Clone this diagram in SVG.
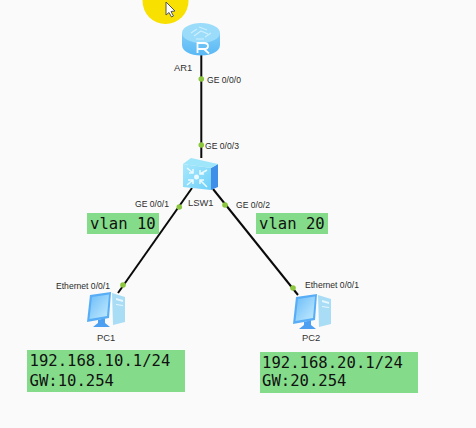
<svg xmlns="http://www.w3.org/2000/svg" width="476" height="428" viewBox="0 0 476 428">
<style>
.l{font-family:"Liberation Sans",Arial,sans-serif;font-size:8.6px;fill:#2a2a2a}
.n{font-family:"Liberation Sans",Arial,sans-serif;font-size:9.4px;fill:#333}
.m{font-family:"DejaVu Sans Mono",monospace;font-size:15.6px;fill:#111}
.g{fill:#84dc8a}
.w{stroke:#0a0a0a;stroke-width:2;fill:none}
.d{fill:#8cc63f}
</style>
<defs>
<linearGradient id="rt" x1="0" y1="0" x2="0" y2="1"><stop offset="0" stop-color="#7fcdf8"/><stop offset="1" stop-color="#5ab8f5"/></linearGradient>
<linearGradient id="sw" x1="0" y1="0" x2="1" y2="1"><stop offset="0" stop-color="#a8e8fd"/><stop offset="1" stop-color="#6fd0f8"/></linearGradient>
<linearGradient id="sc" x1="0" y1="0" x2="1" y2="1"><stop offset="0" stop-color="#6cbcf8"/><stop offset="1" stop-color="#c4ecff"/></linearGradient>
<g id="pc">
<path d="M27 0 L40 4 V29 L28 32 Z" fill="#a9dcf5"/>
<path d="M31 5 L38 7 V9 L31 7 Z M31 11 L38 12 V13 L31 12 Z" fill="#e6f7ff"/>
<path d="M13 27 L20 25 L20 30 L25 34 L8 34 L13 30 Z" fill="#4d9ff2"/>
<path d="M5 2 L26 -1 L24 25 L2 29 Z" fill="#58aef6"/>
<path d="M7 4 L24 1.500 L22 23 L4.500 26 Z" fill="url(#sc)"/>
</g>
</defs>
<rect width="476" height="428" fill="#fafafa"/>
<g id="highlight"><circle cx="165.500" cy="1" r="23" fill="#f8e000"/>
<path d="M166 2 V15 L169 12.500 L171.500 17 L173.500 16 L171 11.500 L175 11 Z" fill="#fff" stroke="#555" stroke-width="1"/></g>
<g id="connectors">
<path class="w" d="M201.300 55 V158"/>
<path class="w" d="M192 188 L118 293"/>
<path class="w" d="M213 189 L298 295"/>
<circle class="d" cx="201.300" cy="79" r="2.800"/>
<circle class="d" cx="201.300" cy="145" r="2.800"/>
<circle class="d" cx="179.300" cy="207" r="2.800"/>
<circle class="d" cx="225" cy="205" r="2.800"/>
<circle class="d" cx="123" cy="285" r="2.800"/>
<circle class="d" cx="293" cy="288" r="2.800"/>
<text class="l" x="207" y="82.500">GE 0/0/0</text>
<text class="l" x="205" y="148.500">GE 0/0/3</text>
<text class="l" x="135" y="206.500">GE 0/0/1</text>
<text class="l" x="236" y="207.500">GE 0/0/2</text>
<text class="l" x="56" y="288.500">Ethernet 0/0/1</text>
<text class="l" x="305" y="288">Ethernet 0/0/1</text>
</g>
<g id="AR1">
<path d="M182 33 V45 C182 51 190 55.500 201 55.500 C212 55.500 220 51 220 45 V33 Z" fill="url(#rt)"/>
<ellipse cx="201" cy="33" rx="19" ry="10" fill="#9adcfa"/>
<path d="M191 33 L197 29 M194 36 L201 31 L208 34 M199 27 L207 30 M205 37 L211 33 M196 39 L204 39" stroke="#cdeffd" stroke-width="1.200" fill="none"/>
<path d="M197.500 53 V43 H204 Q208 43 208 46 Q208 49 204 49 H197.500 M204 49 L209 53.500" stroke="#fff" stroke-width="1.800" fill="none"/>
<text class="n" x="174" y="70.500">AR1</text>
</g>
<g id="LSW1">
<path d="M211 168 L218 164 V187 L211 190 Z" fill="#3f8fe8"/>
<path d="M183 164 L191 158 L218 164 L211 168 Z" fill="#9fe6fb"/>
<path d="M183 164 L211 168 V190 L183 187 Z" fill="url(#sw)"/>
<g stroke="#eafaff" stroke-width="1.500" fill="none">
<path d="M187 168 L193 173 M193 169 V173 H189 M207 170 L200 174 M200 170 V174 H204 M187 185 L193 180 M188 180 H193 V184 M207 187 L200 180 M200 184 V180 H204"/>
</g>
<circle cx="196.500" cy="177" r="2.500" fill="#eafaff"/>
<text class="n" x="188" y="205.500">LSW1</text>
</g>
<g id="PC1">
<use href="#pc" x="85" y="293"/>
<text class="n" x="97" y="341">PC1</text>
</g>
<g id="PC2">
<use href="#pc" x="291" y="295"/>
<text class="n" x="302" y="341">PC2</text>
</g>
<g id="note-vlan10"><rect class="g" x="87" y="213" width="72" height="21"/><text class="m" x="90" y="229">vlan 10</text></g>
<g id="note-vlan20"><rect class="g" x="256" y="213" width="72" height="21"/><text class="m" x="259" y="229">vlan 20</text></g>
<g id="note-pc1"><rect class="g" x="27" y="350" width="158" height="42"/><text class="m" x="29.500" y="365.500">192.168.10.1/24</text><text class="m" x="29.500" y="385.500">GW:10.254</text></g>
<g id="note-pc2"><rect class="g" x="260" y="352" width="158" height="41"/><text class="m" x="262" y="368">192.168.20.1/24</text><text class="m" x="262" y="386">GW:20.254</text></g>
</svg>
